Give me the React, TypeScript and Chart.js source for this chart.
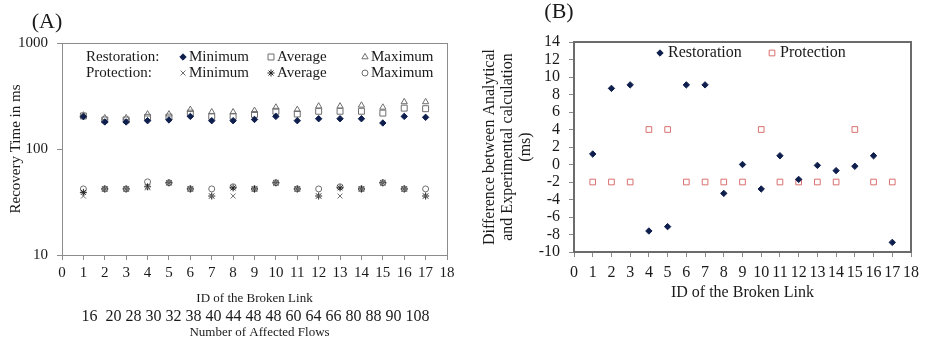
import React, { useEffect, useRef } from 'react';
import { Chart, registerables } from 'chart.js';
import { drawPoint } from 'chart.js/helpers';

Chart.register(...registerables);

// ---------- data ----------
const linkIds = [1, 2, 3, 4, 5, 6, 7, 8, 9, 10, 11, 12, 13, 14, 15, 16, 17];
const affectedFlows = ['16', '', '20', '28', '30', '32', '38', '40', '44', '48', '48', '60', '64', '66', '80', '88', '90', '108'];

// (A) recovery time, ms
const restorationMin = [202, 180, 180, 185, 188, 203, 185, 185, 190, 203, 185, 193, 193, 193, 176, 203, 199];
const restorationAvg = [205, 188, 188, 199, 200, 218, 203, 203, 212, 227, 214, 227, 227, 227, 218, 243, 240];
const restorationMax = [208, 196, 196, 213, 213, 235, 223, 223, 230, 247, 235, 253, 253, 258, 247, 278, 278];
const protectionMin = [36, 42, 42, 43, 48, 42, 36, 36, 42, 48, 42, 36, 36, 42, 48, 42, 36];
const protectionAvg = [39, 42, 42, 44, 48, 42, 36, 43, 42, 48, 42, 36, 43, 42, 48, 42, 36];
const protectionMax = [42, 42, 42, 49, 48, 42, 42, 44, 42, 48, 42, 42, 44, 42, 48, 42, 42];
const logTicksA = [10, 100, 1000];
const statLabels = ['Minimum', 'Average', 'Maximum'];
const groupLabels = ['Restoration:', 'Protection:'];

// (B) difference between analytical and experimental, ms
const restorationDiff = [1.2, 8.7, 9.1, -7.6, -7.1, 9.1, 9.1, -3.3, 0, -2.8, 1.0, -1.7, -0.1, -0.7, -0.2, 1.0, -8.9];
const protectionDiff = [-2, -2, -2, 4, 4, -2, -2, -2, -2, 4, -2, -2, -2, -2, 4, -2, -2];
const seriesLabelsB = ['Restoration', 'Protection'];

// ---------- style ----------
const SERIF = "'Liberation Serif', 'Times New Roman', serif";
const TEXT = '#1a1a1a';
const NAVY = '#0f1f4d';
const GREY = '#6e6e6e';
const RED = '#d9706f';

Chart.defaults.font.family = SERIF;
Chart.defaults.color = TEXT;

const pts = (ys: number[]) => linkIds.map((x, i) => ({ x, y: ys[i] }));

const frame = (color: string, width: number) => ({
  id: 'frame',
  beforeDatasetsDraw(chart: any) {
    const { ctx, chartArea: a } = chart;
    const o = width % 2 ? 0.5 : 0;
    ctx.save();
    ctx.strokeStyle = color;
    ctx.lineWidth = width;
    ctx.strokeRect(Math.round(a.left) + o, Math.round(a.top) + o, Math.round(a.right - a.left), Math.round(a.bottom - a.top));
    ctx.restore();
  },
});

const marker = (ctx: any, ds: any, x: number, y: number) => {
  ctx.save();
  ctx.fillStyle = ds.backgroundColor;
  ctx.strokeStyle = ds.borderColor;
  ctx.lineWidth = ds.borderWidth;
  drawPoint(ctx, { pointStyle: ds.pointStyle, radius: ds.pointRadius, rotation: 0, borderWidth: ds.borderWidth } as any, x, y);
  ctx.restore();
};

const decorA = {
  id: 'decorA',
  afterDraw(chart: any) {
    const { ctx, chartArea: a } = chart;
    ctx.save();
    ctx.fillStyle = TEXT;
    ctx.textBaseline = 'middle';
    ctx.textAlign = 'center';
    ctx.font = `22px ${SERIF}`;
    ctx.fillText('(A)', 47, 22);
    ctx.textAlign = 'left';
    ctx.font = `15px ${SERIF}`;
    const rowsY = [57, 73];
    const colX = [183, 271, 365];
    groupLabels.forEach((g, r) => {
      ctx.fillStyle = TEXT;
      ctx.fillText(g, 86, rowsY[r]);
      statLabels.forEach((s, c) => {
        marker(ctx, chart.data.datasets[r * 3 + c], colX[c], rowsY[r]);
        ctx.fillStyle = TEXT;
        ctx.fillText(s, colX[c] + 6, rowsY[r]);
      });
    });
    const cx = (a.left + a.right) / 2;
    ctx.textAlign = 'center';
    ctx.font = `16px ${SERIF}`;
    ctx.fillText(affectedFlows.join(' '), cx + 1, 317);
    ctx.font = `13px ${SERIF}`;
    ctx.fillText('Number of Affected Flows', cx + 5, 333);
    ctx.restore();
  },
};

const decorB = {
  id: 'decorB',
  afterDraw(chart: any) {
    const { ctx } = chart;
    ctx.save();
    ctx.fillStyle = TEXT;
    ctx.textBaseline = 'middle';
    ctx.textAlign = 'center';
    ctx.font = `22px ${SERIF}`;
    ctx.fillText('(B)', 99, 12);
    ctx.textAlign = 'left';
    ctx.font = `16px ${SERIF}`;
    const xs = [200, 312];
    seriesLabelsB.forEach((l, i) => {
      marker(ctx, chart.data.datasets[i], xs[i], 53);
      ctx.fillStyle = TEXT;
      ctx.fillText(l, xs[i] + 8, 53);
    });
    ctx.restore();
  },
};

function configA(): any {
  const ds = (label: string, data: number[], style: string, radius: number, fill: string, border: string, bw = 1) => ({
    label, data: pts(data), pointStyle: style, pointRadius: radius, backgroundColor: fill, borderColor: border, borderWidth: bw, showLine: false,
  });
  return {
    type: 'scatter',
    data: {
      datasets: [
        ds('Restoration Minimum', restorationMin, 'rectRot', 3.2, NAVY, NAVY),
        ds('Restoration Average', restorationAvg, 'rect', 4.2, 'rgba(255,255,255,0)', GREY),
        ds('Restoration Maximum', restorationMax, 'triangle', 3.6, 'rgba(255,255,255,0)', GREY),
        ds('Protection Minimum', protectionMin, 'crossRot', 3.5, GREY, GREY),
        ds('Protection Average', protectionAvg, 'star', 3.5, '#222', '#222'),
        ds('Protection Maximum', protectionMax, 'circle', 3, 'rgba(255,255,255,0)', GREY),
      ],
    },
    options: {
      animation: false,
      responsive: false,
      layout: { padding: { left: 0, right: 13, top: 43, bottom: 0 } },
      plugins: { legend: { display: false }, tooltip: { enabled: false } },
      scales: {
        x: {
          type: 'linear', min: 0, max: 18,
          ticks: { stepSize: 1, padding: 4, font: { size: 15 }, color: TEXT, autoSkip: false, maxRotation: 0, minRotation: 0 },
          grid: { drawOnChartArea: false, tickLength: 5, color: '#8c8c8c' },
          border: { display: false },
          title: { display: true, text: 'ID of the Broken Link', font: { size: 13 }, color: TEXT, padding: { top: 0, bottom: 36 } },
          afterFit(s: any) { s.height = 87; },
        },
        y: {
          type: 'logarithmic', min: 10, max: 1000,
          afterBuildTicks(s: any) { s.ticks = logTicksA.map((v) => ({ value: v })); },
          ticks: { padding: 9, font: { size: 15 }, color: TEXT, callback: (v: any) => String(v) },
          grid: { drawOnChartArea: false, tickLength: 5, color: '#8c8c8c' },
          border: { display: false },
          title: { display: true, text: 'Recovery Time in ms', font: { size: 15 }, color: TEXT, padding: { top: 7, bottom: 0 } },
          afterFit(s: any) { s.width = 62; },
        },
      },
    },
    plugins: [frame('#8c8c8c', 1), decorA],
  };
}

function configB(): any {
  return {
    type: 'scatter',
    data: {
      datasets: [
        { label: 'Restoration', data: pts(restorationDiff), pointStyle: 'rectRot', pointRadius: 3.2, backgroundColor: NAVY, borderColor: NAVY, borderWidth: 1 },
        { label: 'Protection', data: pts(protectionDiff), pointStyle: 'rect', pointRadius: 4, backgroundColor: 'rgba(255,255,255,0)', borderColor: RED, borderWidth: 1 },
      ],
    },
    options: {
      animation: false,
      responsive: false,
      layout: { padding: { left: 0, right: 10, top: 42, bottom: 0 } },
      plugins: { legend: { display: false }, tooltip: { enabled: false } },
      scales: {
        x: {
          type: 'linear', min: 0, max: 18,
          ticks: { stepSize: 1, padding: 6, font: { size: 16 }, color: TEXT, autoSkip: false, maxRotation: 0, minRotation: 0 },
          grid: { drawOnChartArea: false, tickLength: 5, color: '#8a8a8a' },
          border: { display: false },
          title: { display: true, text: 'ID of the Broken Link', font: { size: 16 }, color: TEXT, padding: { top: 0, bottom: 40 } },
          afterFit(s: any) { s.height = 90; },
        },
        y: {
          type: 'linear', min: -10, max: 14,
          ticks: { stepSize: 2, padding: 9, font: { size: 16 }, color: TEXT, autoSkip: false },
          grid: { drawOnChartArea: false, tickLength: 5, color: '#8a8a8a' },
          border: { display: false },
          title: {
            display: true,
            text: ['Difference between Analytical', 'and Experimental calculation', '(ms)'],
            font: { size: 16, lineHeight: 1.12 }, color: TEXT, padding: { top: 21, bottom: 0 },
          },
          afterFit(s: any) { s.width = 114; },
        },
      },
    },
    plugins: [frame('#6b6b6b', 2), decorB],
  };
}

export default function App() {
  const refA = useRef<HTMLCanvasElement>(null);
  const refB = useRef<HTMLCanvasElement>(null);
  useEffect(() => {
    const a = new Chart(refA.current as HTMLCanvasElement, configA());
    const b = new Chart(refB.current as HTMLCanvasElement, configB());
    return () => {
      a.destroy();
      b.destroy();
    };
  }, []);
  return (
    <div style={{ position: 'absolute', left: 0, top: 0, width: 925, height: 342, background: '#fff', overflow: 'hidden' }}>
      <canvas ref={refA} width={460} height={342} style={{ position: 'absolute', left: 0, top: 0 }} />
      <canvas ref={refB} width={465} height={342} style={{ position: 'absolute', left: 460, top: 0 }} />
    </div>
  );
}
